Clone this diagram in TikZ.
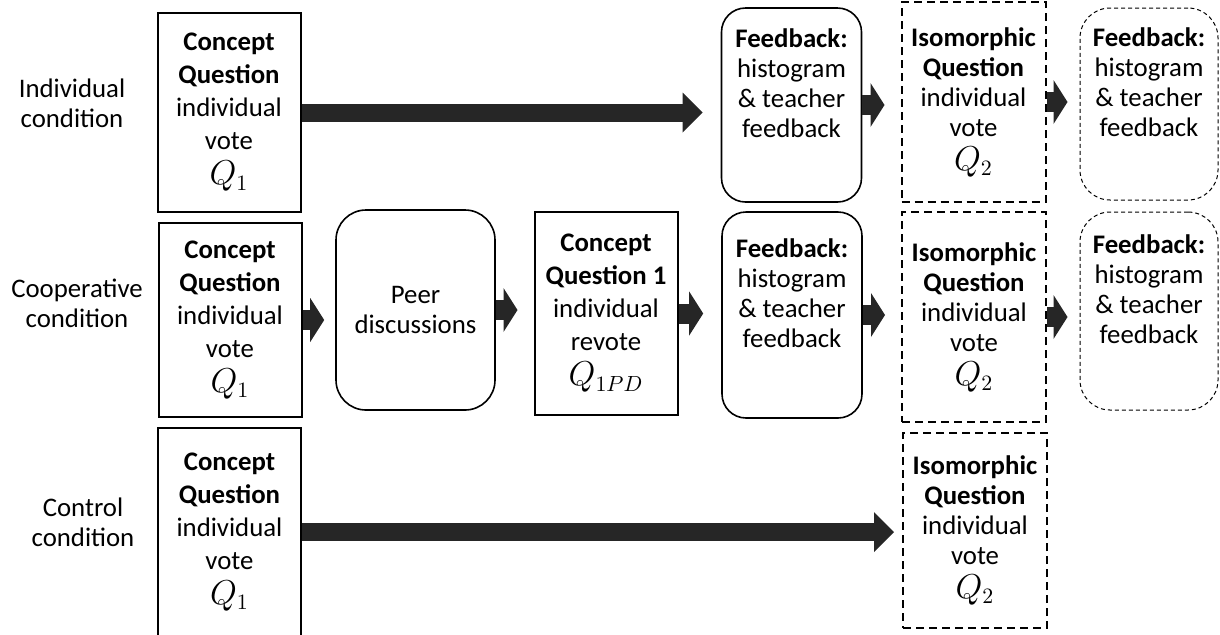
\documentclass[tikz,border=0pt]{standalone}
\usepackage{fontspec}
\setmainfont{Carlito}
\usepackage{tikz}
\usetikzlibrary{arrows.meta,calc}

% larger math line, as the picture sets it
\newcommand{\qlabel}[1]{{\fontsize{16}{15}\selectfont$#1$}}

\begin{document}
\begin{tikzpicture}[x=0.5pt, y=-0.5pt,
    every node/.style={font=\fontsize{13.4}{15}\selectfont, align=center},
    qbox/.style={draw, line width=1pt, minimum width=71.5pt, inner sep=0pt, font=\fontsize{13.4}{16.5}\selectfont},
    isobox/.style={draw, line width=1pt, dash pattern=on 4pt off 2.5pt, minimum width=72pt, inner sep=0pt},
    fbbox/.style={draw, line width=0.8pt, rounded corners=12pt, minimum width=70pt, inner sep=0pt},
    fdbox/.style={draw, line width=0.5pt, dash pattern=on 2pt off 1.5pt, rounded corners=15pt, minimum width=69pt, inner sep=0pt},
    blk/.style={line width=9pt, draw=black!85, -{Triangle[length=10pt, width=20pt, line width=0pt]}, shorten >=9pt},
    sblk/.style={line width=10pt, draw=black!85, -{Triangle[length=7pt, width=22pt, line width=0pt]}, shorten >=8pt}]

    \useasboundingbox (0,0) rectangle (1220,634);
    \clip (0,0) rectangle (1220,634);

    % Row labels
    \node (lblA) at (72,103) {Individual\\condition};
    \node (lblB) at (77,303) {Cooperative\\condition};
    \node (lblC) at (83,522) {Control\\condition};

    % Individual condition
    \node[qbox, minimum height=99.5pt] (cqA) at (229,112.5) {\textbf{Concept}\\\textbf{Question}\\individual\\vote\\[1pt]\qlabel{Q_1}};
    \node[fbbox, minimum height=97pt] (fbA) at (791.5,105) {\textbf{Feedback:}\\histogram\\\& teacher\\feedback\\[7pt]\mbox{}};
    \node[isobox, minimum height=100pt] (isoA) at (973.5,102) {\textbf{Isomorphic}\\\textbf{Question}\\individual\\vote\\[2pt]\qlabel{Q_2}};
    \node[fdbox, minimum height=96pt] (fdA) at (1149,104) {\textbf{Feedback:}\\histogram\\\& teacher\\feedback\\[7pt]\mbox{}};

    \draw[blk] (cqA.east) -- (cqA.east -| fbA.west);
    \draw[sblk] (fbA.east) -- (fbA.east -| isoA.west);
    \draw[sblk, shorten >=6pt] (isoA.east) -- (isoA.east -| fdA.west);

    % Cooperative condition
    \node[qbox, minimum height=97pt] (cqB) at (230,320) {\textbf{Concept}\\\textbf{Question}\\individual\\vote\\[1pt]\qlabel{Q_1}};
    \node[fbbox, rounded corners=15pt, minimum width=79.5pt, minimum height=100pt] (peer) at (415.5,310) {Peer\\discussions};
    \node[qbox, minimum height=101.5pt] (cqoneB) at (606,313.5) {\textbf{Concept}\\\textbf{Question 1}\\individual\\revote\\[1pt]\qlabel{Q_{1PD}}};
    \node[fbbox, minimum height=103pt] (fbB) at (792,315) {\textbf{Feedback:}\\histogram\\\& teacher\\feedback\\[7pt]\mbox{}};
    \node[isobox, minimum height=105pt] (isoB) at (974,317) {\textbf{Isomorphic}\\\textbf{Question}\\individual\\vote\\[2pt]\qlabel{Q_2}};
    \node[fdbox, minimum height=99pt] (fdB) at (1149,311) {\textbf{Feedback:}\\histogram\\\& teacher\\feedback\\[7pt]\mbox{}};

    \draw[sblk, shorten >=5.5pt] (cqB.east) -- (cqB.east -| peer.west);
    \draw[sblk] (peer.east) -- (peer.east -| cqoneB.west);
    \draw[sblk, shorten >=9pt] (cqoneB.east) -- (cqoneB.east -| fbB.west);
    \draw[sblk] (fbB.east) -- (fbB.east -| isoB.west);
    \draw[sblk, shorten >=6pt] (isoB.east) -- (isoB.east -| fdB.west);

    % Control condition
    \node[qbox, minimum height=104pt] (cqC) at (229.5,532) {\textbf{Concept}\\\textbf{Question}\\individual\\vote\\[1pt]\qlabel{Q_1}};
    \node[isobox, minimum height=97.5pt] (isoC) at (975,530.5) {\textbf{Isomorphic}\\\textbf{Question}\\individual\\vote\\[2pt]\qlabel{Q_2}};

    \draw[blk, shorten >=4pt] (cqC.east) -- (cqC.east -| isoC.west);

\end{tikzpicture}
\end{document}
